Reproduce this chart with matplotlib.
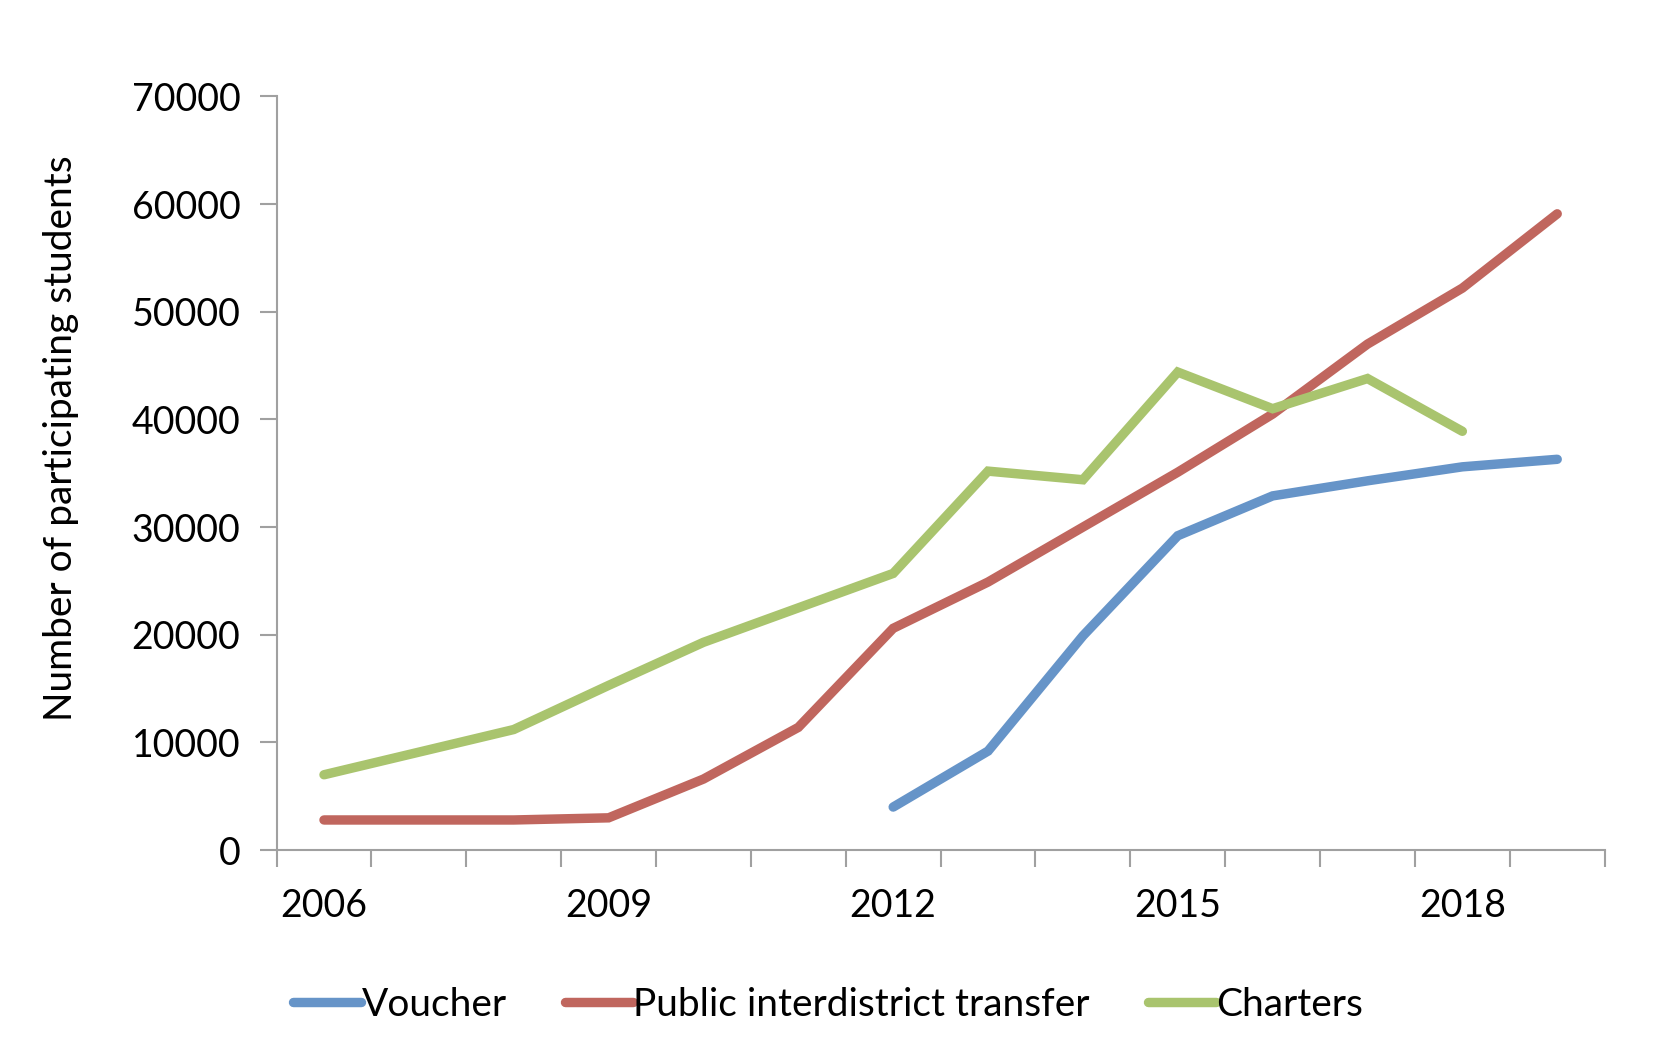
import numpy as np
import matplotlib.pyplot as plt
from matplotlib.ticker import FixedLocator, NullFormatter

years = list(range(2006, 2020))
voucher = [None, None, None, None, None, None, 4000, 9200, 19900, 29200, 32900, 34300, 35600, 36300]
public = [2800, 2800, 2800, 3000, 6600, 11400, 20600, 24900, 30000, 35100, 40500, 47000, 52200, 59100]
charters = [7000, 9100, 11200, 15300, 19300, 22500, 25700, 35200, 34400, 44400, 41000, 43800, 38900, None]
tick_years = [2006, 2009, 2012, 2015, 2018]

plt.rcParams["font.family"] = ["Lato", "DejaVu Sans"]

fig = plt.figure(figsize=(16.56, 10.60), dpi=100)
ax = fig.add_axes([0.167, 0.198, 0.802, 0.711])

x = np.arange(len(years))


def arr(vals):
    return np.array([np.nan if v is None else v for v in vals], dtype=float)


lw = 6.8
ax.plot(x, arr(voucher), color="#6694C8", lw=lw, solid_capstyle="round",
        solid_joinstyle="miter", label="Voucher")
ax.plot(x, arr(public), color="#C0665E", lw=lw, solid_capstyle="round",
        solid_joinstyle="miter", label="Public interdistrict transfer")
ax.plot(x, arr(charters), color="#A9C46E", lw=lw, solid_capstyle="round",
        solid_joinstyle="miter", label="Charters")

ax.set_xlim(-0.5, len(years) - 0.5)
ax.set_ylim(0, 70000)
ax.set_yticks(range(0, 70001, 10000))

# category boundaries as major ticks, labels on minor ticks at centres
ax.xaxis.set_major_locator(FixedLocator(np.arange(-0.5, len(years), 1.0)))
ax.xaxis.set_major_formatter(NullFormatter())
ax.xaxis.set_minor_locator(FixedLocator([years.index(y) for y in tick_years]))
ax.set_xticklabels([str(y) for y in tick_years], minor=True)
ax.tick_params(axis="x", which="minor", length=0, pad=27, labelsize=27)
ax.tick_params(axis="x", which="major", length=12, width=1.5, color="#A0A0A0")
ax.tick_params(axis="y", length=12, width=1.5, color="#A0A0A0", labelsize=27, pad=14)

for s in ["top", "right"]:
    ax.spines[s].set_visible(False)
for s in ["left", "bottom"]:
    ax.spines[s].set_color("#A0A0A0")
    ax.spines[s].set_linewidth(1.5)

ax.set_ylabel("Number of participating students", fontsize=28)
ax.yaxis.set_label_coords(-0.149, 0.546)

leg = fig.legend(loc="center", bbox_to_anchor=(0.5, 0.052), ncol=3, frameon=False,
                 fontsize=28, handlelength=1.75, handletextpad=0.0, columnspacing=1.5)

fig.savefig("out.png", dpi=100)
